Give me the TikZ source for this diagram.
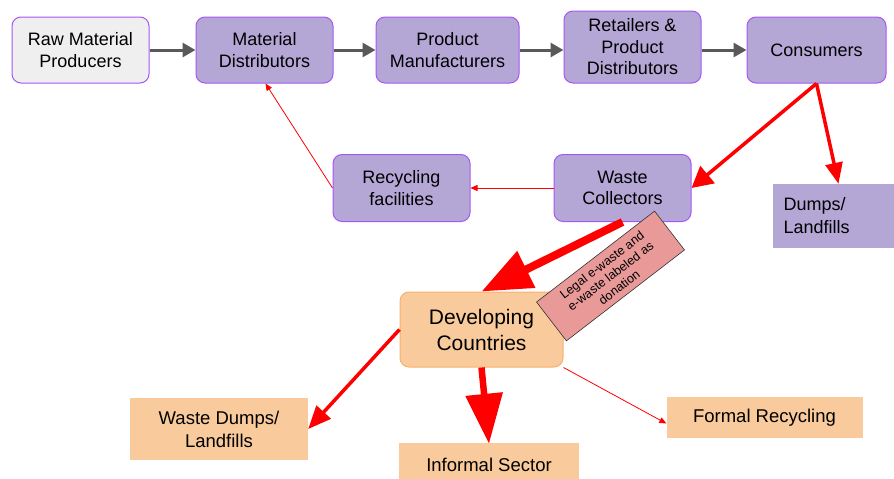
\documentclass[tikz,border=0pt]{standalone}
\usepackage{fontspec}
\setmainfont{Liberation Sans}
\usepackage{tikz}
\usetikzlibrary{arrows.meta,calc}

\definecolor{chainfill}{RGB}{180,167,214}
\definecolor{chainline}{RGB}{168,85,247}
\definecolor{rawfill}{RGB}{239,239,239}
\definecolor{devfill}{RGB}{249,203,156}
\definecolor{devline}{RGB}{246,178,107}
\definecolor{notefill}{RGB}{234,153,153}
\definecolor{flowgray}{RGB}{89,89,89}
\definecolor{wastered}{RGB}{255,0,0}

\tikzset{
  chainbox/.style={draw=chainline, line width=1pt, fill=chainfill, rounded corners=9pt,
    minimum width=137pt, minimum height=66pt, align=center, font=\fontsize{18}{21.5}\selectfont},
  destbox/.style={fill=devfill, align=center, font=\fontsize{18.5}{23}\selectfont},
  goods/.style={draw=flowgray, line width=3pt, -{Triangle[length=13pt 0 0,width=14pt 0 0]}},
  thinwaste/.style={draw=wastered, line width=0.8pt, -{Triangle[length=7pt 0 0,width=6pt 0 0]}},
  waste/.style={draw=wastered, line width=3.5pt, -{Triangle[length=21pt 0 0,width=22pt 0 0]}},
  bigwaste/.style={draw=wastered, line width=8pt, -{Triangle[length=50pt 0 0,width=39pt 0 0]}}
}

\begin{document}
\begin{tikzpicture}[x=1pt,y=-1pt]
\useasboundingbox (0,0) rectangle (894,479);

% supply chain along the top
\node[chainbox, fill=rawfill] (raw) at (80.5,50) {Raw Material\\Producers};
\node[chainbox] (matdist) at (264.5,50) {Material\\Distributors};
\node[chainbox, minimum width=143pt] (manuf) at (447.5,50) {Product\\Manufacturers};
\node[chainbox, minimum height=72pt] (retail) at (632.5,47) {Retailers \&\\Product\\Distributors};
\node[chainbox, minimum width=139pt] (cons) at (816.5,50) {Consumers};

\draw[goods] (raw) -- (matdist);
\draw[goods] (matdist) -- (manuf);
\draw[goods] (manuf) -- (retail.west |- manuf);
\draw[goods] (retail.east |- cons) -- (cons);

% collection and recycling
\node[chainbox, minimum width=137pt, minimum height=67pt] (recyc) at (401.5,188) {Recycling\\facilities};
\node[chainbox, minimum width=137pt, minimum height=67pt] (collect) at (622.5,188) {Waste\\Collectors};
\node[fill=chainfill, minimum width=121pt, minimum height=64pt, align=left,
  font=\fontsize{18}{23}\selectfont, text width=100pt] (dumps) at (833.5,216) {Dumps/\\Landfills};

\draw[waste] (cons.south) -- (collect.east);
\draw[waste, -{Triangle[length=21pt 0 0,width=17pt 0 0]}] (cons.south) -- ([xshift=5pt]dumps.north);
\draw[thinwaste] (collect.west) -- (recyc.east);
\draw[thinwaste] (recyc.west) -- ([xshift=1pt]matdist.south);

% export to developing countries
\node[draw=devline, line width=1pt, fill=devfill, rounded corners=9pt, minimum width=163pt,
  minimum height=75pt, align=center, font=\fontsize{21}{26}\selectfont] (dev) at (481.5,329.5) {Developing\\Countries};

\draw[bigwaste] (collect.south) -- (dev.north);

\node[draw=black!80, line width=0.6pt, fill=notefill, rotate=37.6, minimum width=149pt,
  minimum height=49pt, inner sep=1pt, align=center, font=\fontsize{12.5}{14}\selectfont] (note) at (610.5,276)
  {Legal e-waste and\\e-waste labeled as\\donation};

\node[destbox, minimum width=178pt, minimum height=62pt] (wdump) at (219,429) {Waste Dumps/\\Landfills};
\node[destbox, minimum width=180pt, minimum height=44pt] (informal) at (489,465) {Informal Sector};
\node[destbox, minimum width=196pt, minimum height=41pt] (formal) at (764.5,417.5) {Formal Recycling};

\draw[waste, -{Triangle[length=23pt 0 0,width=19pt 0 0]}] (dev.west) -- (wdump.east);
\draw[bigwaste, line width=6.5pt, -{Triangle[length=50pt 0 0,width=36pt 0 0]}] (dev.south) -- ([yshift=-1pt]informal.north);
\draw[thinwaste] (dev.south east) -- ([yshift=-6pt]formal.west);
\end{tikzpicture}
\end{document}
